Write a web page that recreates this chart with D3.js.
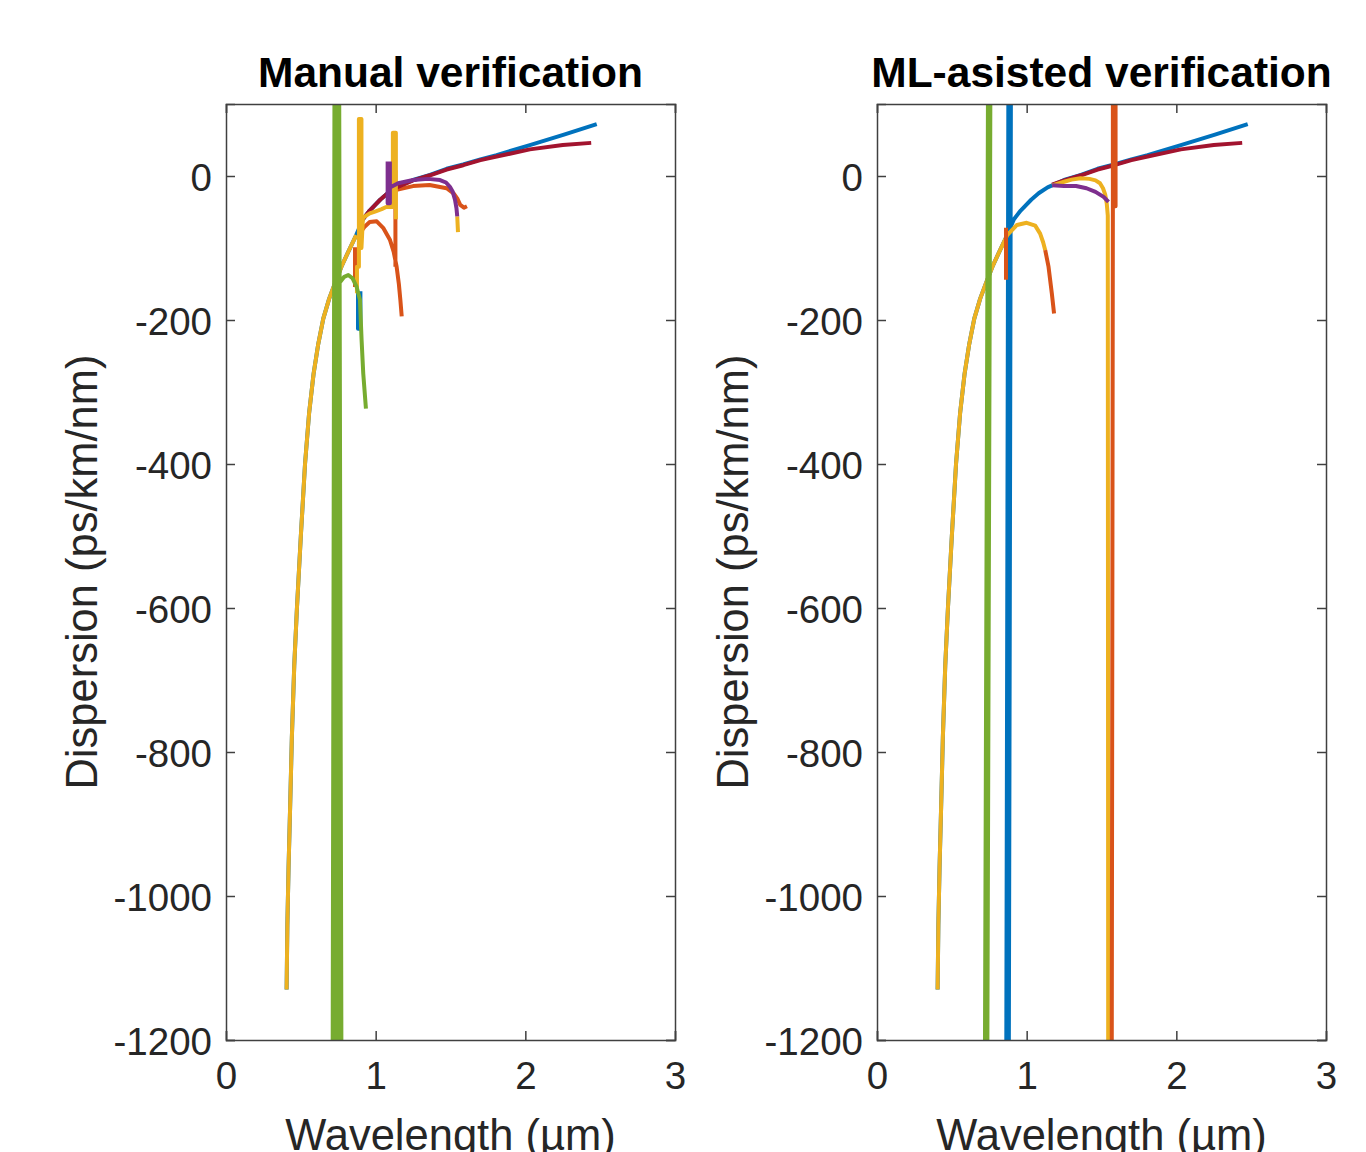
<!DOCTYPE html>
<html>
<head>
<meta charset="utf-8">
<script src="https://cdn.jsdelivr.net/npm/d3@7"></script>
<style>
  body { margin: 0; background: #fff; }
  text { font-family: "Liberation Sans", Arial, sans-serif; fill: #262626; }
</style>
</head>
<body>
<div id="chart"></div>
<script>
// axis ticks
var xTicks = [0, 1, 2, 3];
var yTicks = [-1200, -1000, -800, -600, -400, -200, 0];

// shared steep branch of the dispersion curve (wavelength um, ps/km/nm)
var mainLower = [[0.405,-1130],[0.41,-1040],[0.418,-960],[0.428,-880],[0.44,-780],[0.456,-680],
  [0.474,-600],[0.5,-500],[0.528,-400],[0.555,-330],[0.585,-275],[0.615,-235],[0.65,-198],
  [0.69,-170],[0.73,-148],[0.775,-124],[0.82,-104],[0.87,-82],[0.915,-60]];
var upperBlue = [[0.915,-60],[0.96,-48],[1.03,-33],[1.08,-24],[1.14,-15.7],[1.25,-5.6],[1.363,1.4],
  [1.474,10],[1.585,16],[1.7,23],[1.808,29],[2.03,43],[2.253,57],[2.477,72]];

// Manual verification
var manualBlue = mainLower.concat(upperBlue.slice(1), [null,
  [0.882,-160],[0.882,-212],[0.898,-212],[0.898,-160]]);
var manualOrange = [[0.862,-99],[0.862,-154], null,
  [0.9,-78],[0.928,-70],[0.96,-64],[1.007,-63],[1.05,-72],[1.096,-89],[1.12,-105],[1.14,-126],
  [1.155,-150],[1.165,-172],[1.174,-195], null,
  [1.132,8],[1.132,-126], null,
  [1.1,-22],[1.14,-19],[1.25,-14],[1.36,-12.5],[1.474,-17],[1.52,-24],[1.545,-31],[1.565,-40],
  [1.59,-44],[1.61,-42]];
var manualRed = [[0.915,-60],[0.96,-48],[1.03,-33],[1.08,-24],[1.14,-16],[1.25,-6],[1.363,1],
  [1.474,9],[1.585,15],[1.7,22],[1.808,27],[2.03,37],[2.25,43],[2.44,46]];
var manualYellow = mainLower.slice(0, -1).concat([null,
  [0.875,-163],[0.875,-126],[0.888,-126],[0.888,79],[0.905,79],[0.905,-100],[0.915,-58],
  [0.96,-52],[1.0,-49],[1.04,-46],[1.07,-43],[1.115,-43],[1.115,60],[1.135,60],[1.135,-60], null,
  [1.545,-56],[1.55,-78]]);
var manualPurple = [[1.08,20],[1.08,-38],[1.095,-38],[1.095,20], null,
  [1.095,-16],[1.15,-10],[1.25,-5.6],[1.35,-4],[1.43,-5.6],[1.47,-9],[1.496,-15],[1.515,-22],
  [1.53,-33],[1.54,-45],[1.545,-56]];
var manualGreen = [[0.712,-1300],[0.725,150],[0.724,-1300],[0.733,150],[0.736,-1300],[0.741,150],
  [0.748,-1300],[0.749,150],[0.76,-1300],[0.756,150],[0.772,-1300],[0.76,-300],
  [0.74,-160],[0.76,-148],[0.79,-140],[0.817,-137.5],[0.845,-142],[0.873,-154],[0.895,-172],
  [0.906,-228],[0.917,-274],[0.935,-323]];

// ML-asisted verification
var mlBlue = mainLower.concat(upperBlue.slice(1), [null,
  [0.863,-1300],[0.878,150],[0.895,150],[0.88,-1300]]);
var mlRed = [[1.17,-12],[1.25,-6],[1.363,1],[1.474,9],[1.585,15],[1.7,22],[1.808,27],
  [2.03,37],[2.25,43],[2.44,46]];
var mlYellow = mainLower.slice(0, -1).concat([
  [0.935,-68],[1.0,-65],[1.057,-69],[1.09,-80],[1.11,-92],[1.124,-103], null,
  [1.17,-13],[1.25,-8],[1.3,-5],[1.36,-3],[1.42,-4],[1.46,-6],[1.49,-10],[1.51,-17],
  [1.525,-26],[1.535,-38],[1.542,-55],[1.545,-1300]]);
var mlPurple = [[1.17,-13],[1.25,-14],[1.33,-14],[1.4,-17],[1.46,-22],[1.514,-29],[1.547,-36]];
var mlOrange = [[0.862,-72],[0.862,-144], null,
  [1.124,-103],[1.146,-126],[1.168,-163],[1.183,-191], null,
  [1.576,150],[1.576,-42],[1.594,-42],[1.594,150], null,
  [1.576,-42],[1.568,-1300]];
var mlGreen = [[0.72,-1300],[0.742,150],[0.758,150],[0.736,-1300]];

var colors = {blue: "#0072BD", orange: "#D95319", yellow: "#EDB120", purple: "#7E2F8E",
  green: "#77AC30", red: "#A2142F"};

var panels = [
  {title: "Manual verification", left: 226,
   series: [[manualBlue, "blue"], [manualOrange, "orange"], [manualRed, "red"],
            [manualYellow, "yellow"], [manualPurple, "purple"], [manualGreen, "green"]]},
  {title: "ML-asisted verification", left: 877,
   series: [[mlBlue, "blue"], [mlRed, "red"], [mlYellow, "yellow"], [mlPurple, "purple"],
            [mlOrange, "orange"], [mlGreen, "green"]]}
];

var width = 1366, height = 1152,
    axW = 449, axTop = 104, axBottom = 1040;

var svg = d3.select("#chart").append("svg")
    .attr("width", width)
    .attr("height", height);

panels.forEach(function(p, i) {
  var x = d3.scaleLinear().domain([0, 3]).range([p.left, p.left + axW]);
  var y = d3.scaleLinear().domain([-1200, 100]).range([axBottom, axTop]);

  svg.append("clipPath").attr("id", "clip" + i)
    .append("rect")
      .attr("x", p.left).attr("y", axTop)
      .attr("width", axW).attr("height", axBottom - axTop);

  var line = d3.line()
      .defined(function(d) { return d !== null; })
      .x(function(d) { return x(d[0]); })
      .y(function(d) { return y(d[1]); });

  var g = svg.append("g").attr("clip-path", "url(#clip" + i + ")");
  p.series.forEach(function(s) {
    g.append("path")
      .datum(s[0])
      .attr("d", line)
      .attr("fill", "none")
      .attr("stroke", colors[s[1]])
      .attr("stroke-width", 4)
      .attr("stroke-linejoin", "round");
  });

  // axes, ticks pointing inward like matlab
  var fmt = function(d) { return d; };
  var ax = svg.append("g").attr("transform", "translate(0," + axBottom + ")")
      .call(d3.axisBottom(x).tickValues(xTicks).tickFormat(fmt).tickSize(-9).tickPadding(22));
  var ay = svg.append("g").attr("transform", "translate(" + p.left + ",0)")
      .call(d3.axisLeft(y).tickValues(yTicks).tickFormat(fmt).tickSize(-9).tickPadding(14));
  svg.append("g").attr("transform", "translate(0," + axTop + ")")
      .call(d3.axisTop(x).tickValues(xTicks).tickFormat("").tickSize(-9));
  svg.append("g").attr("transform", "translate(" + (p.left + axW) + ",0)")
      .call(d3.axisRight(y).tickValues(yTicks).tickFormat("").tickSize(-9));

  svg.selectAll(".domain, .tick line").attr("stroke", "#404040").attr("stroke-width", 1.5);
  ax.selectAll(".tick text").style("font-size", "38.5px").attr("fill", "#262626");
  ay.selectAll(".tick text").style("font-size", "38.5px").attr("fill", "#262626").attr("dy", "0.38em");

  svg.append("text")
    .attr("x", p.left + axW / 2).attr("y", 87)
    .attr("text-anchor", "middle")
    .style("font-size", "42.5px").style("font-weight", "bold").style("fill", "#000")
    .text(p.title);

  svg.append("text")
    .attr("x", p.left + axW / 2).attr("y", 1150)
    .attr("text-anchor", "middle")
    .style("font-size", "43.5px")
    .text("Wavelength (\u00b5m)");

  svg.append("text")
    .attr("transform", "translate(" + (p.left - 129) + "," + ((axTop + axBottom) / 2) + ") rotate(-90)")
    .attr("text-anchor", "middle")
    .style("font-size", "43.5px")
    .text("Dispersion (ps/km/nm)");
});
</script>
</body>
</html>
